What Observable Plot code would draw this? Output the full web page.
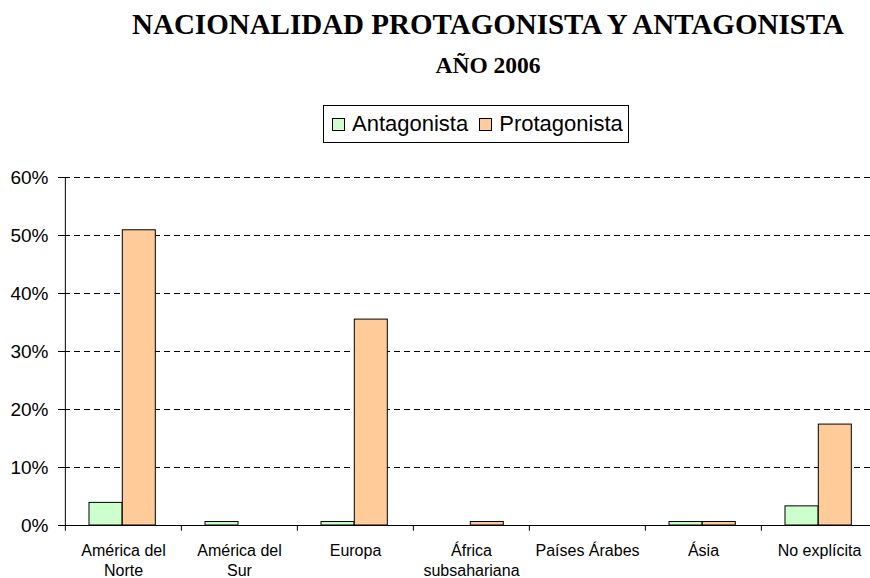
<!DOCTYPE html>
<html>
<head>
<meta charset="utf-8">
<script src="https://cdn.jsdelivr.net/npm/d3@7"></script>
<script src="https://cdn.jsdelivr.net/npm/@observablehq/plot@0.6"></script>
<style>
  body { margin: 0; background: #fff; }
  #wrap { position: relative; width: 870px; height: 578px; overflow: hidden; background: #fff; }
  #header { position: relative; width: 870px; height: 150px; }
  .title { position: absolute; left: 108px; width: 760px; text-align: center; font-family: "Liberation Serif", "Times New Roman", serif; font-weight: bold; line-height: 1; color: #000; white-space: nowrap; }
  #t1 { top: 10px; font-size: 29px; }
  #t2 { top: 54px; font-size: 23.5px; }
  #legend { position: absolute; left: 323px; top: 105px; width: 304px; height: 36px; border: 1px solid #000; display: flex; align-items: center; font-family: "Liberation Sans", Arial, sans-serif; font-size: 22px; color: #000; box-sizing: content-box; }
  .sw { display: inline-block; width: 11px; height: 11px; border: 1px solid #000; margin-right: 7px; }
  .item { display: flex; align-items: center; }
</style>
</head>
<body>
<div id="wrap">
  <div id="header">
    <div class="title" id="t1"></div>
    <div class="title" id="t2"></div>
    <div id="legend"></div>
  </div>
  <div id="chart"></div>
</div>
<script>
const titleText = "NACIONALIDAD PROTAGONISTA Y ANTAGONISTA";
const subtitleText = "AÑO 2006";
const seriesNames = ["Antagonista", "Protagonista"];
const seriesColors = ["#CCFFCC", "#FFCC99"];
const categories = ["América del Norte", "América del Sur", "Europa", "África subsahariana", "Países Árabes", "Ásia", "No explícita"];
const categoryLabels = ["América del\nNorte", "América del\nSur", "Europa", "África\nsubsahariana", "Países Árabes", "Ásia", "No explícita"];
const antagonista = [3.9, 0.6, 0.6, 0, 0, 0.6, 3.3];
const protagonista = [50.9, 0, 35.5, 0.6, 0, 0.6, 17.4];
const yTicks = [0, 10, 20, 30, 40, 50, 60];

document.getElementById("t1").textContent = titleText;
document.getElementById("t2").textContent = subtitleText;
const legend = document.getElementById("legend");
seriesNames.forEach((name, i) => {
  const item = document.createElement("span");
  item.className = "item";
  item.style.marginLeft = i === 0 ? "8px" : "11px";
  const sw = document.createElement("span");
  sw.className = "sw";
  sw.style.background = seriesColors[i];
  item.appendChild(sw);
  item.appendChild(document.createTextNode(name));
  legend.appendChild(item);
});

const antData = categories.map((c, i) => ({cat: c, value: antagonista[i]})).filter(d => d.value > 0);
const proData = categories.map((c, i) => ({cat: c, value: protagonista[i]})).filter(d => d.value > 0);

const x0 = 64, x1 = 878;
const step = (x1 - x0) / categories.length;
const barW = 33.3;
const off = 24;

const chart = Plot.plot({
  width: 870,
  height: 428,
  marginLeft: 64,
  marginRight: 0,
  marginTop: 27,
  marginBottom: 53,
  style: {fontFamily: "Liberation Sans, Arial, sans-serif", fontSize: "16px", background: "white", color: "#000", overflow: "visible"},
  x: {domain: categories, range: [x0, x1], padding: 0, axis: null},
  y: {domain: [0, 60], axis: null},
  marks: [
    Plot.ruleY(yTicks.slice(1), {y: d => d, stroke: "#000", strokeDasharray: "6,4"}),
    Plot.barY(antData, {x: "cat", y: "value", fill: seriesColors[0], stroke: "#000", strokeWidth: 1,
      insetLeft: off, insetRight: step - off - barW}),
    Plot.barY(proData, {x: "cat", y: "value", fill: seriesColors[1], stroke: "#000", strokeWidth: 1,
      insetLeft: off + barW, insetRight: step - off - 2 * barW}),
    Plot.ruleY([0], {stroke: "#000"}),
    Plot.ruleX([categories[0]], {x: d => d, y1: 0, y2: 60, dx: -step / 2, stroke: "#000"}),
    Plot.ruleX(categories, {x: d => d, y1: 0, y2: -1, dx: -step / 2, stroke: "#000"}),
    Plot.axisY({ticks: yTicks, tickFormat: d => d + "%", tickSize: 6, tickPadding: 10, fontSize: 19, label: null, stroke: "#000", fill: "#000"}),
    Plot.text(categories, {x: d => d, y: 0, text: (d, i) => categoryLabels[i], dy: 17, lineAnchor: "top", lineHeight: 1.22, fontSize: 16, fill: "#000"})
  ]
});
document.getElementById("chart").appendChild(chart);
</script>
</body>
</html>
